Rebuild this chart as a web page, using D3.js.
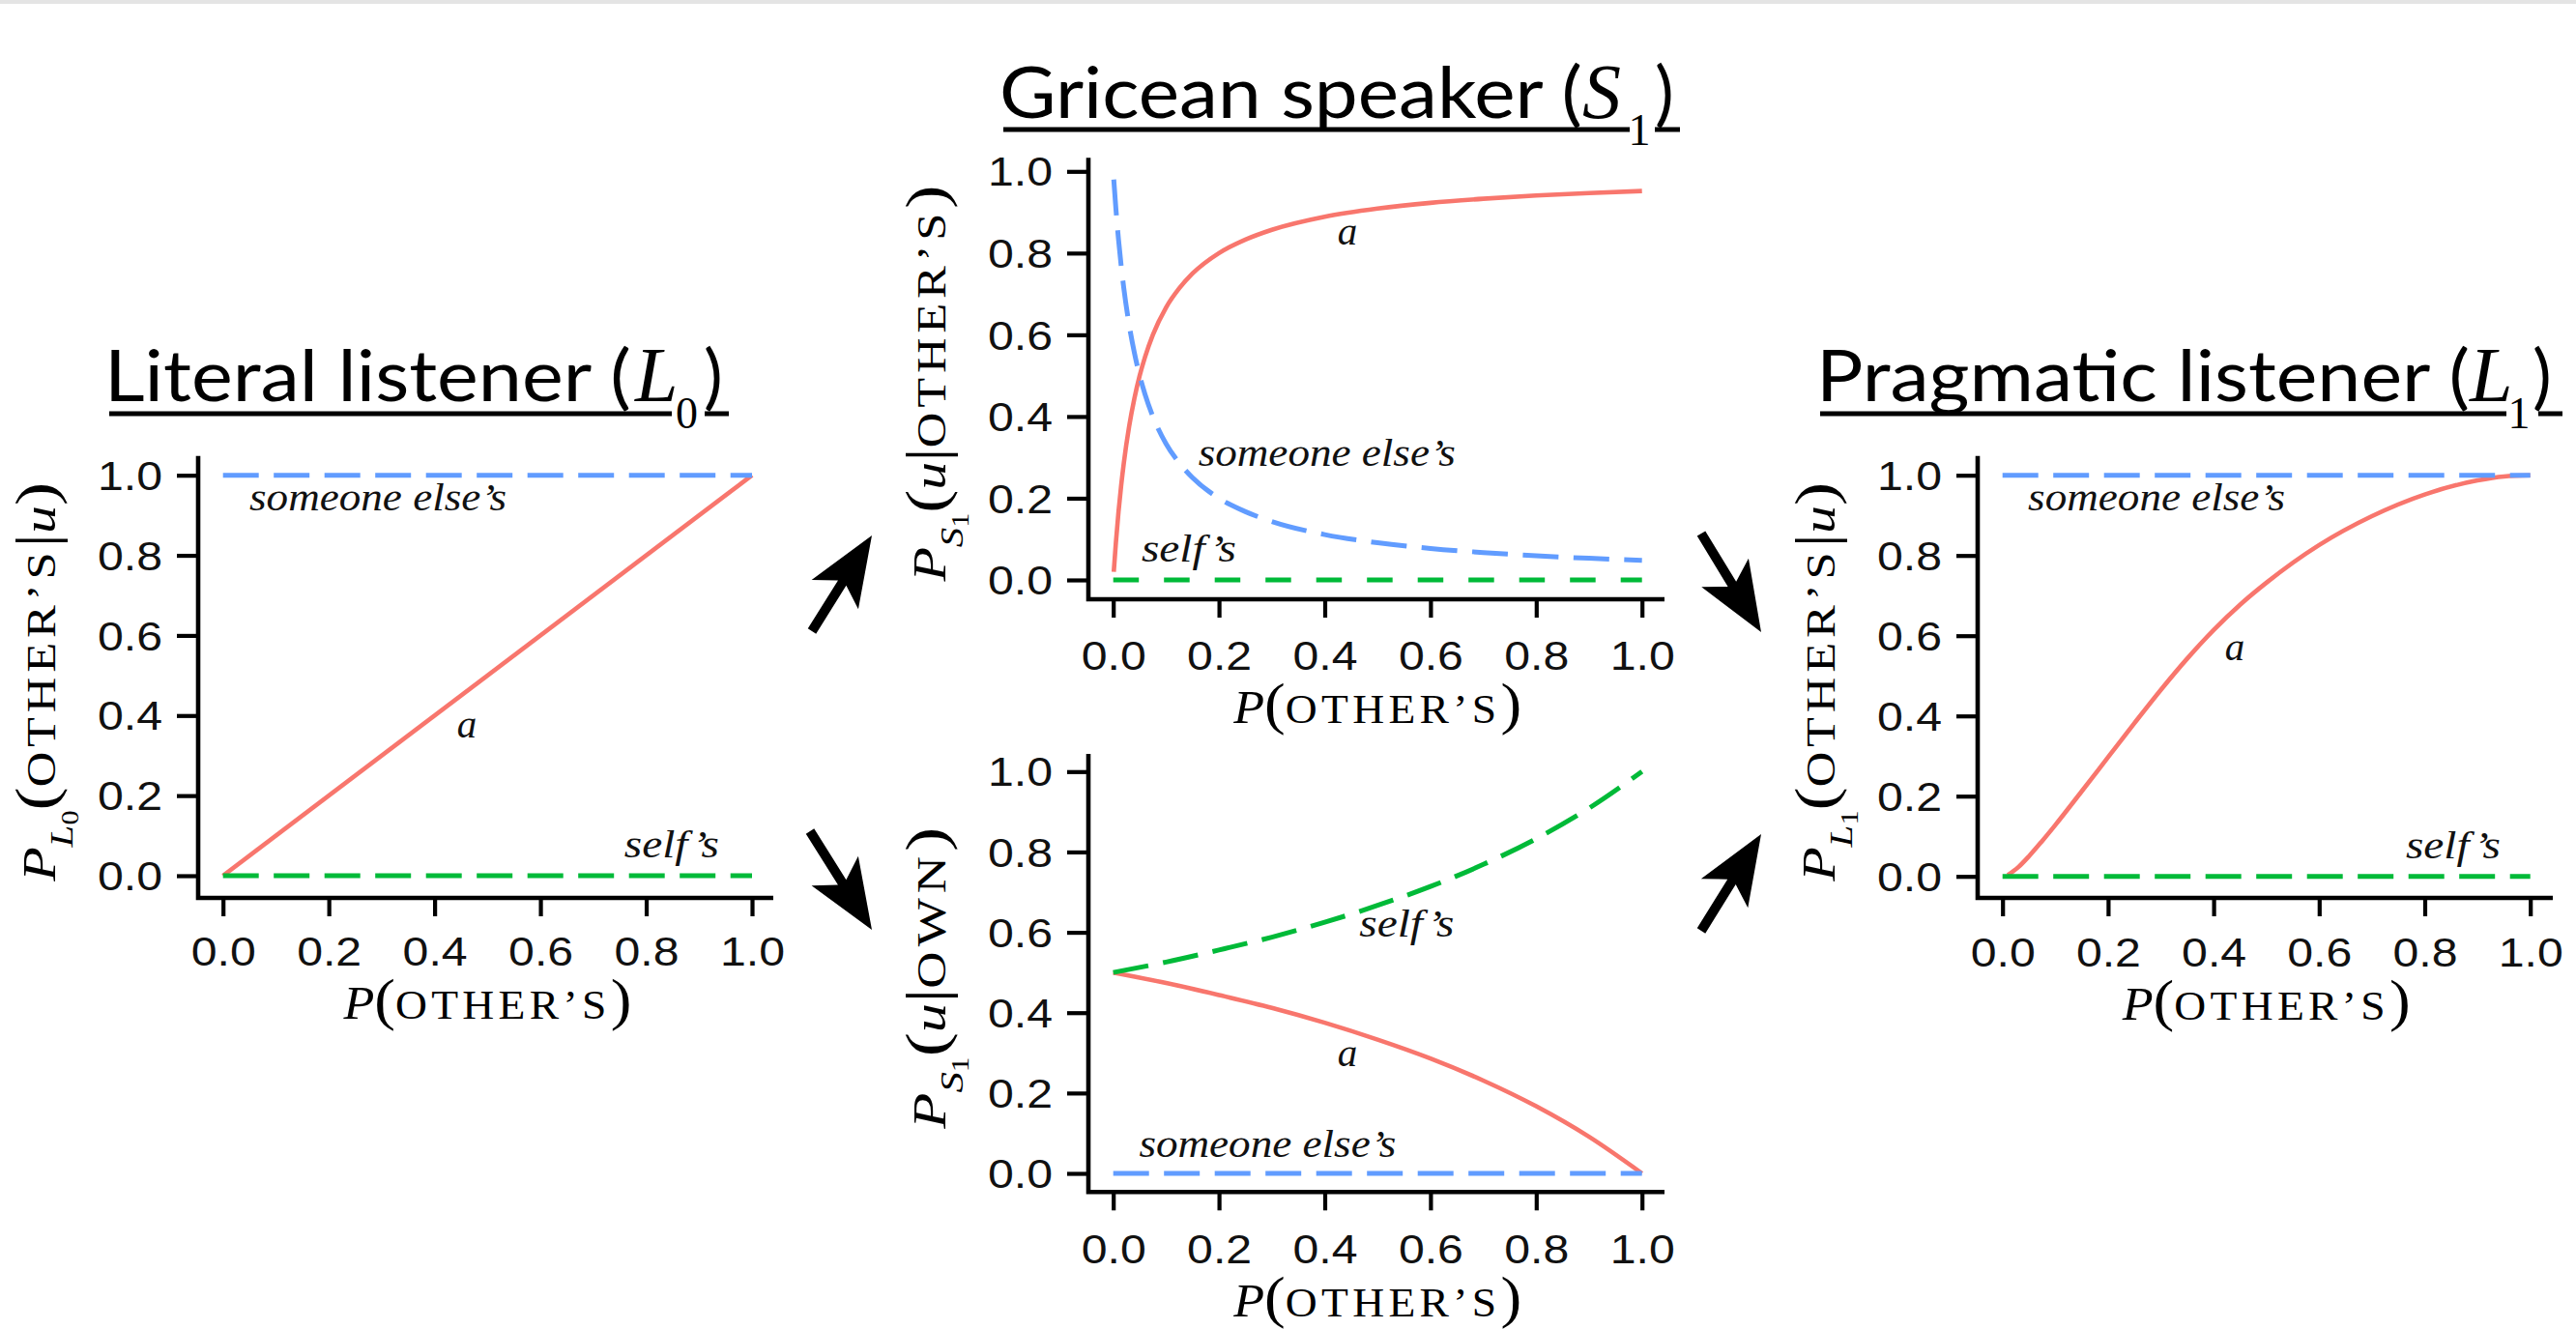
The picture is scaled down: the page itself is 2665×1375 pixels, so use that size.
<!DOCTYPE html>
<html><head><meta charset="utf-8">
<script src="https://cdn.jsdelivr.net/npm/d3@7"></script>
<style>body{margin:0;background:#fff}</style>
</head><body>
<svg id="c" width="2665" height="1375"></svg>
<script>
// ================= DATA =================
const tickValues = [0, 0.2, 0.4, 0.6, 0.8, 1.0];

// Literal listener (L0)
const L0_x        = [0, 1];
const L0_a        = [0, 1];
const L0_someone  = [1, 1];
const L0_self     = [0, 0];

// Gricean speaker, u | OTHER'S
const S1o_x       = [0.001, 0.005, 0.01, 0.015, 0.02, 0.03, 0.04, 0.05, 0.06, 0.075, 0.1, 0.125, 0.15, 0.2, 0.25, 0.3, 0.4, 0.5, 0.6, 0.7, 0.8, 0.9, 1.0];
const S1o_a       = [0.02, 0.091, 0.167, 0.231, 0.286, 0.375, 0.444, 0.5, 0.545, 0.6, 0.667, 0.714, 0.75, 0.8, 0.833, 0.857, 0.889, 0.909, 0.923, 0.933, 0.941, 0.947, 0.952];
const S1o_someone = [0.98, 0.909, 0.833, 0.769, 0.714, 0.625, 0.556, 0.5, 0.455, 0.4, 0.333, 0.286, 0.25, 0.2, 0.167, 0.143, 0.111, 0.091, 0.077, 0.067, 0.059, 0.053, 0.048];
const S1o_selfX   = [0, 1];
const S1o_self    = [0, 0];

// Gricean speaker, u | OWN
const S1w_x       = [0, 0.1, 0.2, 0.3, 0.4, 0.5, 0.6, 0.7, 0.8, 0.9, 1.0];
const S1w_self    = [0.5, 0.526, 0.556, 0.588, 0.625, 0.667, 0.714, 0.769, 0.833, 0.909, 1.0];
const S1w_a       = [0.5, 0.474, 0.444, 0.412, 0.375, 0.333, 0.286, 0.231, 0.167, 0.091, 0.0];
const S1w_someone = [0, 0, 0, 0, 0, 0, 0, 0, 0, 0, 0];

// Pragmatic listener (L1)
const L1_x        = [0.01, 0.03, 0.05, 0.075, 0.1, 0.15, 0.2, 0.25, 0.3, 0.35, 0.4, 0.45, 0.5, 0.6, 0.7, 0.8, 0.9, 0.95, 1.0];
const L1_a        = [0.003, 0.023, 0.05, 0.088, 0.128, 0.212, 0.297, 0.382, 0.465, 0.543, 0.614, 0.677, 0.732, 0.826, 0.898, 0.952, 0.987, 0.997, 1.0];
const L1_lineX    = [0, 1];
const L1_someone  = [1, 1];
const L1_self     = [0, 0];

// in-plot labels: [text, x, y]
const L0_labels  = [["someone else\u2019s", 0.293, 0.912], ["a", 0.461, 0.345], ["self\u2019s", 0.848, 0.046]];
const S1o_labels = [["a", 0.443, 0.82], ["someone else\u2019s", 0.404, 0.28], ["self\u2019s", 0.143, 0.046]];
const S1w_labels = [["self\u2019s", 0.555, 0.589], ["a", 0.443, 0.268], ["someone else\u2019s", 0.292, 0.04]];
const L1_labels  = [["someone else\u2019s", 0.292, 0.913], ["a", 0.44, 0.54], ["self\u2019s", 0.854, 0.046]];

const titleTexts = ["Literal listener (", "Gricean speaker (", "Pragmatic listener ("];
const titleMath  = [["L", "0"], ["S", "1"], ["L", "1"]];

// ================= STYLE / LAYOUT =================
const RED = "#F8766D", BLUE = "#619CFF", GREEN = "#00BA38";
const SERIF = "'Liberation Serif', 'DejaVu Serif', serif";
const SANS = "'Liberation Sans', Arial, sans-serif";
const DASH = "37 15.5";

const svg = d3.select("#c");
svg.append("rect").attr("x", 0).attr("y", 0).attr("width", 2665).attr("height", 4).attr("fill", "#e4e4e4");

// part: [text, italic, size, dy, letterSpacing]
const MS = 48, SUB = 34, SUB2 = 25, PAR = 60, SC = 42, LS = 4;
const panels = [
  {x0: 230.7, x1: 778, y0: 906, y1: 491.7, axL: 205, axR: 800, axT: 471.7, axB: 929, labLen: 413,
   ylab: [["P",1,MS,0],["L",1,SUB,18],["0",0,SUB2,6],["(",0,PAR,-24],["OTHER\u2019S",0,SC,0,LS],["|",0,PAR,0],["u",1,MS,0],[")",0,PAR,0]],
   series: [[L0_x, L0_a, RED, null], [L0_x, L0_someone, BLUE, DASH], [L0_x, L0_self, GREEN, DASH]],
   labels: L0_labels},
  {x0: 1151.7, x1: 1698.7, y0: 600, y1: 177.3, axL: 1126, axR: 1722, axT: 163.3, axB: 620, labLen: 410,
   ylab: [["P",1,MS,0],["S",1,SUB,18],["1",0,SUB2,6],["(",0,PAR,-24],["u",1,MS,0],["|",0,PAR,0],["OTHER\u2019S",0,SC,0,LS],[")",0,PAR,0]],
   series: [[S1o_x, S1o_a, RED, null], [S1o_x, S1o_someone, BLUE, DASH], [S1o_selfX, S1o_self, GREEN, "26.5 26"]],
   labels: S1o_labels},
  {x0: 1151.7, x1: 1698.7, y0: 1214, y1: 798.3, axL: 1126, axR: 1722, axT: 780, axB: 1233.3, labLen: 312,
   ylab: [["P",1,MS,0],["S",1,SUB,18],["1",0,SUB2,6],["(",0,PAR,-24],["u",1,MS,0],["|",0,PAR,0],["OWN",0,SC,0,LS],[")",0,PAR,0]],
   series: [[S1w_x, S1w_a, RED, null], [S1w_x, S1w_someone, BLUE, DASH], [S1w_x, S1w_self, GREEN, DASH]],
   labels: S1w_labels},
  {x0: 2071.7, x1: 2617.7, y0: 906.7, y1: 491.7, axL: 2046, axR: 2641, axT: 471.7, axB: 929, labLen: 413,
   ylab: [["P",1,MS,0],["L",1,SUB,18],["1",0,SUB2,6],["(",0,PAR,-24],["OTHER\u2019S",0,SC,0,LS],["|",0,PAR,0],["u",1,MS,0],[")",0,PAR,0]],
   series: [[L1_x, L1_a, RED, null], [L1_lineX, L1_someone, BLUE, DASH], [L1_lineX, L1_self, GREEN, DASH]],
   labels: L1_labels}
];

function scaledText(g, parts, target) {
  const t = g.append("text").attr("text-anchor", "middle").attr("font-family", SERIF).attr("fill", "#000");
  parts.forEach(p => t.append("tspan").text(p[0]).attr("font-style", p[1] ? "italic" : "normal")
    .attr("font-size", p[2]).attr("dy", p[3]).attr("letter-spacing", p[4] || 0));
  const len = t.node().getComputedTextLength();
  t.attr("transform", `scale(${target / len},1)`);
}

panels.forEach(p => {
  const xs = d3.scaleLinear().domain([0, 1]).range([p.x0, p.x1]);
  const ys = d3.scaleLinear().domain([0, 1]).range([p.y0, p.y1]);
  const g = svg.append("g");

  // axes
  const ya = g.append("g").attr("transform", `translate(${p.axL},0)`)
    .call(d3.axisLeft(ys).tickValues(tickValues).tickSize(22).tickPadding(15).tickFormat(d3.format(".1f")));
  const xa = g.append("g").attr("transform", `translate(0,${p.axB})`)
    .call(d3.axisBottom(xs).tickValues(tickValues).tickSize(19).tickFormat(d3.format(".1f")));
  [ya, xa].forEach(a => {
    a.select(".domain").remove();
    a.selectAll(".tick line").attr("stroke", "#000").attr("stroke-width", 4.2);
    a.selectAll(".tick text").attr("fill", "#111").attr("font-family", SANS).attr("font-size", 43)
      .attr("textLength", 67).attr("lengthAdjust", "spacingAndGlyphs");
  });
  ya.selectAll(".tick text").attr("dy", "0.34em");
  xa.selectAll(".tick text").attr("y", p.y0 + 93 - p.axB).attr("dy", 0);

  g.append("path").attr("d", `M${p.axL},${p.axT}V${p.axB}H${p.axR}`)
    .attr("fill", "none").attr("stroke", "#000").attr("stroke-width", 4.6).attr("stroke-linejoin", "miter");

  // series
  const line = d3.line().x(d => xs(d[0])).y(d => ys(d[1])).curve(d3.curveMonotoneX);
  p.series.forEach(s => {
    g.append("path").attr("d", line(d3.zip(s[0], s[1])))
      .attr("fill", "none").attr("stroke", s[2])
      .attr("stroke-width", s[3] ? 5 : 4.6)
      .attr("stroke-dasharray", s[3]);
  });

  // in-plot labels
  p.labels.forEach(l => {
    const t = g.append("text").attr("x", xs(l[1])).attr("y", ys(l[2]))
      .attr("text-anchor", "middle").attr("font-family", SERIF).attr("font-style", "italic")
      .attr("font-size", 41).attr("fill", "#111").text(l[0]);
    if (l[0].length > 10) t.attr("textLength", 266).attr("lengthAdjust", "spacingAndGlyphs");
    else if (l[0].length > 2) t.attr("textLength", 98).attr("lengthAdjust", "spacingAndGlyphs");
  });

  // y label
  const yl = g.append("g").attr("transform", `translate(${p.axL - 148},${(p.axT + p.axB) / 2 + 5}) rotate(-90)`);
  scaledText(yl, p.ylab, p.labLen);
  // x label
  const xl = g.append("g").attr("transform", `translate(${(p.x0 + p.x1) / 2},${p.y0 + 148})`);
  scaledText(xl, [["P",1,MS,0],["(",0,PAR,0],["OTHER\u2019S",0,SC,0,LS],[")",0,PAR,0]], 298);
});

// ================= TITLES =================
const titleLayout = [
  {x: 108, len: 545, base: 415, ul: 428, ix: 657, sx: 710.5, cx: 728, segs: [[113, 695], [729, 754]]},
  {x: 1034, len: 603, base: 122, ul: 134, ix: 1637, sx: 1696, cx: 1712, segs: [[1038, 1686], [1712, 1738]]},
  {x: 1879, len: 676, base: 415, ul: 428, ix: 2555, sx: 2606, cx: 2620, segs: [[1883, 2593], [2626, 2651]]}
];
titleLayout.forEach((t, i) => {
  const g = svg.append("g");
  g.append("text").attr("x", t.x).attr("y", t.base).attr("font-family", "Lato, 'Open Sans', sans-serif")
    .attr("font-size", 74).attr("textLength", t.len).attr("lengthAdjust", "spacingAndGlyphs")
    .attr("fill", "#000").text(titleTexts[i]);
  g.append("text").attr("x", t.ix).attr("y", t.base).attr("font-family", SERIF).attr("font-style", "italic")
    .attr("font-size", 80).attr("fill", "#000").text(titleMath[i][0]);
  g.append("text").attr("x", t.sx).attr("y", t.base + 28).attr("text-anchor", "middle").attr("font-family", SERIF)
    .attr("font-size", 46).attr("fill", "#000").text(titleMath[i][1]);
  g.append("text").attr("x", t.cx).attr("y", t.base).attr("font-family", "Lato, 'Open Sans', sans-serif")
    .attr("font-size", 74).attr("fill", "#000").text(")");
  t.segs.forEach(s => g.append("line").attr("x1", s[0]).attr("x2", s[1]).attr("y1", t.ul).attr("y2", t.ul)
    .attr("stroke", "#000").attr("stroke-width", 5));
});

// ================= ARROWS =================
const arrows = [
  [[840, 653], [902, 554]],
  [[838, 860], [902, 962]],
  [[1760, 552], [1822, 654]],
  [[1760, 963], [1822, 863]]
];
arrows.forEach(a => {
  const [tx, ty] = a[0], [hx, hy] = a[1];
  const L = Math.hypot(hx - tx, hy - ty);
  const dx = (hx - tx) / L, dy = (hy - ty) / L, nx = -dy, ny = dx;
  const pt = (s, t) => [tx + dx * s + nx * t, ty + dy * s + ny * t];
  const pts = [pt(0, -5), pt(L - 58, -5), pt(L - 72, -28.5), pt(L, 0), pt(L - 72, 28.5), pt(L - 58, 5), pt(0, 5)];
  svg.append("path").attr("d", "M" + pts.map(q => q.join(",")).join("L") + "Z").attr("fill", "#000");
});
</script>
</body></html>
